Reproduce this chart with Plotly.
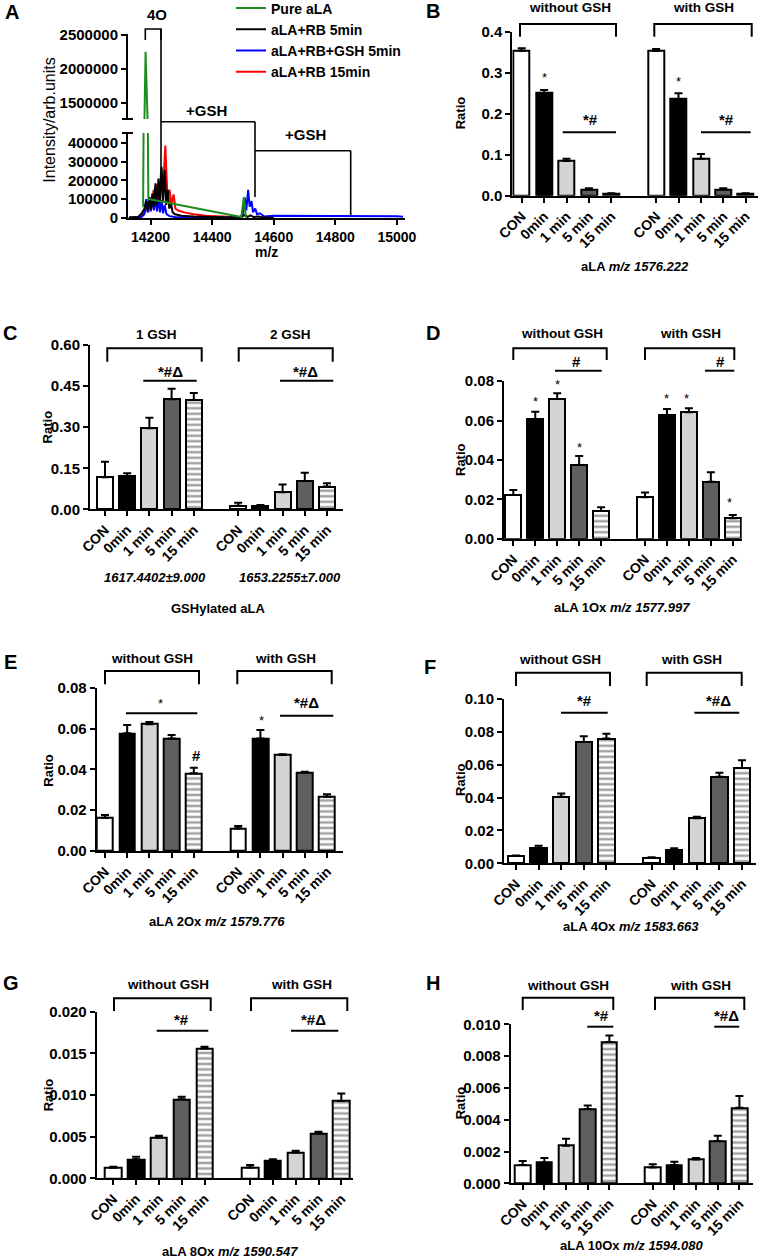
import plotly.graph_objects as go

W, H = 761, 1260
FONT = "Liberation Sans, Arial, Helvetica, sans-serif"

# ---------------- Panel A: spectra ----------------
spec_names = ["Pure aLA", "aLA+RB 5min", "aLA+RB+GSH 5min", "aLA+RB 15min"]
spec_colors = ["#1e8c1e", "#000000", "#0000ff", "#ff0000"]

mz_pure = [14176, 14184, 14193, 14198, 14495, 14503, 14510]
int_pure = [60000, 2250000, 100000, 100000, 5000, 110000, 2000]

mz_rb5 = [14130, 14160, 14172, 14180, 14186, 14191, 14196, 14201, 14206, 14211, 14216, 14221,
          14226, 14231, 14236, 14241, 14246, 14251, 14256, 14261, 14266, 14272, 14280, 14300,
          14340, 14400, 14460, 14495, 14505, 14515, 14525, 14535, 14550, 14570, 14600]
int_rb5 = [2000, 5000, 25000, 50000, 90000, 40000, 110000, 45000, 130000, 60000, 185000, 70000,
           210000, 80000, 273000, 90000, 255000, 70000, 150000, 50000, 80000, 30000, 20000, 12000,
           8000, 5000, 3000, 5000, 15000, 6000, 14000, 5000, 8000, 2000, 1000]

mz_gsh5 = [14130, 14170, 14180, 14186, 14191, 14196, 14201, 14206, 14211, 14216, 14221, 14226,
           14231, 14236, 14241, 14246, 14252, 14262, 14280, 14320, 14400, 14490, 14500, 14506,
           14511, 14517, 14522, 14528, 14533, 14540, 14546, 14555, 14570, 14600, 14650, 14700,
           14750, 14800, 14850, 14900, 14950, 15000, 15020]
int_gsh5 = [1000, 5000, 20000, 100000, 30000, 110000, 35000, 115000, 40000, 110000, 35000, 100000,
            30000, 95000, 25000, 70000, 20000, 10000, 5000, 3000, 2000, 3000, 20000, 110000,
            40000, 150000, 60000, 90000, 30000, 50000, 20000, 25000, 8000, 12000, 12000, 9000,
            11000, 9000, 13000, 9000, 10000, 9000, 6000]

mz_rb15 = [14130, 14170, 14182, 14188, 14193, 14198, 14204, 14210, 14216, 14222, 14228, 14234,
           14240, 14248, 14255, 14262, 14268, 14275, 14281, 14290, 14310, 14340, 14380, 14420,
           14460, 14500]
int_rb15 = [1000, 5000, 30000, 70000, 30000, 110000, 50000, 150000, 70000, 180000, 80000, 240000,
            110000, 385000, 120000, 150000, 70000, 125000, 50000, 40000, 30000, 20000, 12000, 8000,
            4000, 2000]

# ---------------- Bar panels ----------------
bar_labels = ["CON", "0min", "1 min", "5 min", "15 min"]
groups_gsh = ["without GSH", "with GSH"]
groups_n = ["1 GSH", "2 GSH"]

B_mean = [0.354, 0.251, 0.085, 0.015, 0.005, 0.353, 0.236, 0.090, 0.015, 0.005]
B_sem = [0.006, 0.007, 0.005, 0.003, 0.001, 0.005, 0.014, 0.012, 0.003, 0.001]
C_mean = [0.117, 0.122, 0.296, 0.402, 0.400, 0.013, 0.012, 0.062, 0.103, 0.083]
C_sem = [0.057, 0.010, 0.039, 0.039, 0.025, 0.011, 0.004, 0.029, 0.031, 0.012]
D_mean = [0.0222, 0.0608, 0.0709, 0.0374, 0.0141, 0.0210, 0.0628, 0.0642, 0.0289, 0.0104]
D_sem = [0.0025, 0.0037, 0.0029, 0.0046, 0.0019, 0.0024, 0.0030, 0.0020, 0.0048, 0.0016]
E_mean = [0.0163, 0.0577, 0.0622, 0.0552, 0.0381, 0.0111, 0.0552, 0.0471, 0.0386, 0.0266]
E_sem = [0.0013, 0.0041, 0.0010, 0.0017, 0.0027, 0.0012, 0.0041, 0.0003, 0.0003, 0.0012]
F_mean = [0.0044, 0.0091, 0.0405, 0.0739, 0.0760, 0.0034, 0.0081, 0.0274, 0.0527, 0.0581]
F_sem = [0.0004, 0.0016, 0.0020, 0.0035, 0.0030, 0.0003, 0.0010, 0.0009, 0.0024, 0.0047]
G_mean = [0.00127, 0.00228, 0.0049, 0.0095, 0.0156, 0.0013, 0.0021, 0.0031, 0.0054, 0.0093]
G_sem = [0.00013, 0.00032, 0.0002, 0.0003, 0.0002, 0.0003, 0.0002, 0.0002, 0.0002, 0.0009]
H_mean = [0.00115, 0.0013, 0.00237, 0.00468, 0.0089, 0.0010, 0.00115, 0.0015, 0.00266, 0.00475]
H_sem = [0.00025, 0.0003, 0.00043, 0.00022, 0.0004, 0.0002, 0.0002, 0.0001, 0.00034, 0.00075]

bar_colors = ["white", "black", "#d4d4d4", "#5f5f5f", "white"] * 2
bar_patterns = ["", "", "", "", "-"] * 2
xs = [g * 6 + i for g in range(2) for i in range(5)]


def fx(x):
    return x / W


def fy(y):
    return 1 - y / H


shapes = []
annotations = []


def seg(x0, y0, x1, y1, w=2):
    shapes.append(dict(type="line", xref="paper", yref="paper", x0=fx(x0), y0=fy(y0),
                       x1=fx(x1), y1=fy(y1), line=dict(color="black", width=w)))


def bracket(x0, x1, yb, yl, w=2):
    path = f"M {fx(x0)} {fy(yl)} L {fx(x0)} {fy(yb)} L {fx(x1)} {fy(yb)} L {fx(x1)} {fy(yl)}"
    shapes.append(dict(type="path", xref="paper", yref="paper", path=path,
                       line=dict(color="black", width=w)))


def text(t, x, y, size, bold=True, angle=0):
    annotations.append(dict(text=t, x=fx(x), y=fy(y), xref="paper", yref="paper",
                            showarrow=False, xanchor="center", yanchor="middle", textangle=angle,
                            font=dict(family=FONT, size=size, color="black",
                                      weight="bold" if bold else "normal")))


fig = go.Figure()
layout = {}

axfont = dict(family=FONT, size=15, color="black", weight="bold")
xafont = dict(family=FONT, size=14, color="black", weight="bold")
xtfont = dict(family=FONT, size=14, color="black", weight="bold")
common = dict(ticks="outside", ticklen=5, tickwidth=2, tickcolor="black", showline=True,
              linewidth=2, linecolor="black", showgrid=False, zeroline=False, automargin=False)

# ---------------- Panel A ----------------
A_left, A_right = 128, 405
A_x0px, A_scale = 150.5, 0.308  # px of 14200, px per m/z unit
A_xrange = [14200 + (A_left - A_x0px) / A_scale, 14200 + (A_right - A_x0px) / A_scale]

series = [(mz_rb15, int_rb15, 3), (mz_gsh5, int_gsh5, 2), (mz_rb5, int_rb5, 1), (mz_pure, int_pure, 0)]
for mz, inten, k in series:
    for yax, show in (("y", True), ("y2", False)):
        fig.add_trace(go.Scatter(x=mz, y=inten, mode="lines", xaxis="x", yaxis=yax,
                                 name=spec_names[k], legendrank=k + 1, showlegend=show,
                                 line=dict(color=spec_colors[k], width=2)))

layout["xaxis"] = dict(domain=[fx(A_left), fx(A_right)], range=A_xrange, anchor="y",
                       tick0=0, dtick=200, tickformat="d", tickfont=xafont, **common)
lo_y0, lo_top = 218, 133
lo_max = (lo_y0 - lo_top) / 18.8 * 100000
layout["yaxis"] = dict(domain=[fy(lo_y0), fy(lo_top)], range=[0, lo_max], anchor="x",
                       tick0=0, dtick=100000, tickformat="d", tickfont=axfont, **common)
up_bot, up_top = 119, 33.5
layout["yaxis2"] = dict(domain=[fy(up_bot), fy(up_top)], range=[1265000, 2520000], anchor="x",
                        tickvals=[1500000, 2000000, 2500000], tickformat="d", tickfont=axfont,
                        **common)
# axis break marks
seg(122, up_bot, 133, up_bot)
seg(122, lo_top, 133, lo_top)

# brackets of panel A
bracket(145.3, 161, 29, 40, 1.6)
seg(161, 29, 161, 188, 1.6)
seg(161, 121.7, 255, 121.7, 1.6)
seg(255, 121.7, 255, 197, 1.6)
seg(255, 150.7, 350.7, 150.7, 1.6)
seg(350.7, 150.7, 350.7, 215, 1.6)
text("4O", 156.7, 15, 15)
text("+GSH", 207, 110, 15)
text("+GSH", 305, 135, 15)
text("A", 12, 12, 20)
text("Intensity/arb.units", 50, 120.7, 16, bold=False, angle=-90)
text("m/z", 266.7, 252, 14)

# ---------------- bar panels ----------------
panels = [
    dict(mean=B_mean, sem=B_sem, groups=groups_gsh,
         left=512.3, right=758, c0=521.7, slot=22.4, y0=195.7, ytop=31.7, ymax=0.4, dtick=0.1, fmt=".1f",
         letter=("B", 433, 11), br=[(520, 616), (654.3, 751.7)], br_y=(24, 36.7),
         grp=[(570, 8), (703.3, 8)],
         sig=[(562.7, 616, 132.3), (701, 750.7, 132.3)],
         marks=[("*#", 590, 119.3), ("*#", 726.7, 119.3)],
         stars=[(544.3, 74), (678.3, 79)], ratio=(460, 113.3),
         subs=[("aLA <i>m/z 1576.222</i>", 635, 266.7)]),
    dict(mean=C_mean, sem=C_sem, groups=groups_n,
         left=90, right=343.3, c0=105, slot=22.2, y0=509.3, ytop=345, ymax=0.6, dtick=0.15, fmt=".2f",
         letter=("C", 10, 333), br=[(107.3, 201.7), (238.7, 332.7)], br_y=(348.3, 361.7),
         grp=[(156.7, 334.3), (290, 334.3)],
         sig=[(143.3, 196.7, 380.7), (280, 333.3, 380.7)],
         marks=[("*#Δ", 170, 371.7), ("*#Δ", 305, 371.7)],
         stars=[], ratio=(47.7, 426.7),
         subs=[("<i>1617.4402±9.000</i>", 155, 577.3), ("<i>1653.2255±7.000</i>", 290, 577.3),
               ("GSHylated aLA", 218, 608.3)]),
    dict(mean=D_mean, sem=D_sem, groups=groups_gsh,
         left=504, right=741.7, c0=513.3, slot=21.95, y0=538.7, ytop=381, ymax=0.08, dtick=0.02, fmt=".2f",
         letter=("D", 433, 333), br=[(513.3, 606.7), (645, 734.3)], br_y=(348.3, 360),
         grp=[(561.7, 333.3), (690, 333.3)],
         sig=[(555, 601.7, 370.7), (705, 734.3, 370.7)],
         marks=[("#", 576.7, 361.7), ("#", 720.7, 361.7)],
         stars=[(535.7, 398.3), (557.7, 381), (579.3, 444), (666, 395), (686.7, 395), (729.3, 499.3)],
         ratio=(460, 460), subs=[("aLA 1Ox <i>m/z 1577.997</i>", 621.7, 607.3)]),
    dict(mean=E_mean, sem=E_sem, groups=groups_gsh,
         left=96.7, right=343.3, c0=105, slot=22.2, y0=851, ytop=687.7, ymax=0.08, dtick=0.02, fmt=".2f",
         letter=("E", 10, 661.7), br=[(105, 199), (237.3, 331.7)], br_y=(671, 684.3),
         grp=[(151.7, 658.3), (285, 658.3)],
         sig=[(126, 197.3, 713.3), (280, 333.3, 715.7)],
         marks=[("*#Δ", 306, 702.7), ("#", 196.7, 755)],
         stars=[(160, 700), (261.7, 717.3)], ratio=(47.7, 770),
         subs=[("aLA 2Ox <i>m/z 1579.776</i>", 216.7, 921.7)]),
    dict(mean=F_mean, sem=F_sem, groups=groups_gsh,
         left=504, right=756, c0=516, slot=22.6, y0=863.3, ytop=699, ymax=0.10, dtick=0.02, fmt=".2f",
         letter=("F", 430, 666.7), br=[(516, 610), (646.7, 741.7)], br_y=(672.7, 686),
         grp=[(560, 659.3), (691.7, 659.3)],
         sig=[(561, 607.7, 712.7), (694.3, 739.3, 712.7)],
         marks=[("*#", 584, 700), ("*#Δ", 718.3, 700)],
         stars=[], ratio=(460, 780), subs=[("aLA 4Ox <i>m/z 1583.663</i>", 630.7, 926)]),
    dict(mean=G_mean, sem=G_sem, groups=groups_gsh,
         left=96.7, right=353.3, c0=113.3, slot=22.8, y0=1178.3, ytop=1011.7, ymax=0.020, dtick=0.005,
         fmt=".3f",
         letter=("G", 11, 983.3), br=[(114, 210.7), (251, 347.3)], br_y=(998.3, 1011),
         grp=[(168.3, 984.3), (301.7, 984.3)],
         sig=[(156.7, 208.3, 1030.7), (291, 338.3, 1030.7)],
         marks=[("*#", 181.7, 1019.3), ("*#Δ", 313.3, 1019.3)],
         stars=[], ratio=(48.3, 1095), subs=[("aLA 8Ox <i>m/z 1590.547</i>", 230, 1251)]),
    dict(mean=H_mean, sem=H_sem, groups=groups_gsh,
         left=510.7, right=752.7, c0=522.7, slot=21.67, y0=1183.3, ytop=1024.3, ymax=0.010, dtick=0.002,
         fmt=".3f",
         letter=("H", 433.3, 983.3), br=[(522.7, 613.3), (655, 744.3)], br_y=(997.7, 1010),
         grp=[(568.3, 985), (700, 985)],
         sig=[(587.3, 613.3, 1026.7), (714.3, 739.3, 1026.7)],
         marks=[("*#", 601.7, 1015), ("*#Δ", 726.7, 1015)],
         stars=[], ratio=(460, 1103.3), subs=[("aLA 10Ox <i>m/z 1594.080</i>", 631.7, 1245)]),
]

for n, p in enumerate(panels):
    idx = n + 3
    xa, ya = f"x{idx}", f"y{idx}"
    fig.add_trace(go.Bar(
        x=xs, y=p["mean"], xaxis=xa, yaxis=ya, width=0.72, showlegend=False,
        marker=dict(color=bar_colors, line=dict(color="black", width=2),
                    pattern=dict(shape=bar_patterns, fgcolor="black", bgcolor="white",
                                 size=5.5, solidity=0.45)),
        error_y=dict(type="data", array=p["sem"], arrayminus=[0] * len(p["sem"]), symmetric=False,
                     color="black", thickness=2, width=4)))
    layout[f"xaxis{idx}"] = dict(
        domain=[fx(p["left"]), fx(p["right"])],
        range=[(p["left"] - p["c0"]) / p["slot"], (p["right"] - p["c0"]) / p["slot"]],
        anchor=ya, tickmode="array", tickvals=xs, ticktext=bar_labels * 2, tickangle=-45,
        tickfont=xtfont, **common)
    layout[f"yaxis{idx}"] = dict(
        domain=[fy(p["y0"]), fy(p["ytop"])], range=[0, p["ymax"] * 1.001], anchor=xa,
        tick0=0, dtick=p["dtick"], tickformat=p["fmt"], tickfont=axfont, **common)
    t, lx, ly = p["letter"]
    text(t, lx, ly, 20)
    yb, yl = p["br_y"]
    for (x0, x1), g, (gx, gy) in zip(p["br"], p["groups"], p["grp"]):
        bracket(x0, x1, yb, yl)
        text(g, gx, gy, 13.5)
    for x0, x1, y in p["sig"]:
        seg(x0, y, x1, y)
    for t, x, y in p["marks"]:
        text(t, x, y, 15)
    for x, y in p["stars"]:
        text("*", x, y + 3, 13, bold=False)
    rx, ry = p["ratio"]
    text("Ratio", rx, ry, 13, angle=-90)
    for t, x, y in p["subs"]:
        text(t, x, y, 13)

layout.update(dict(
    width=W, height=H, margin=dict(l=0, r=0, t=0, b=0, autoexpand=False),
    paper_bgcolor="white", plot_bgcolor="white",
    font=dict(family=FONT, color="black"),
    showlegend=True,
    legend=dict(x=fx(231), y=1.006, xanchor="left", yanchor="top", bgcolor="rgba(0,0,0,0)",
                font=dict(family=FONT, size=14, color="black", weight="bold"),
                tracegroupgap=0, itemwidth=30),
    shapes=shapes, annotations=annotations, bargap=0,
))
fig.update_layout(**layout)
fig.write_html("out.html", config={"displayModeBar": False},
               post_script="document.body.style.margin='0';document.body.style.padding='0';"
                           "document.body.style.overflow='hidden';")
